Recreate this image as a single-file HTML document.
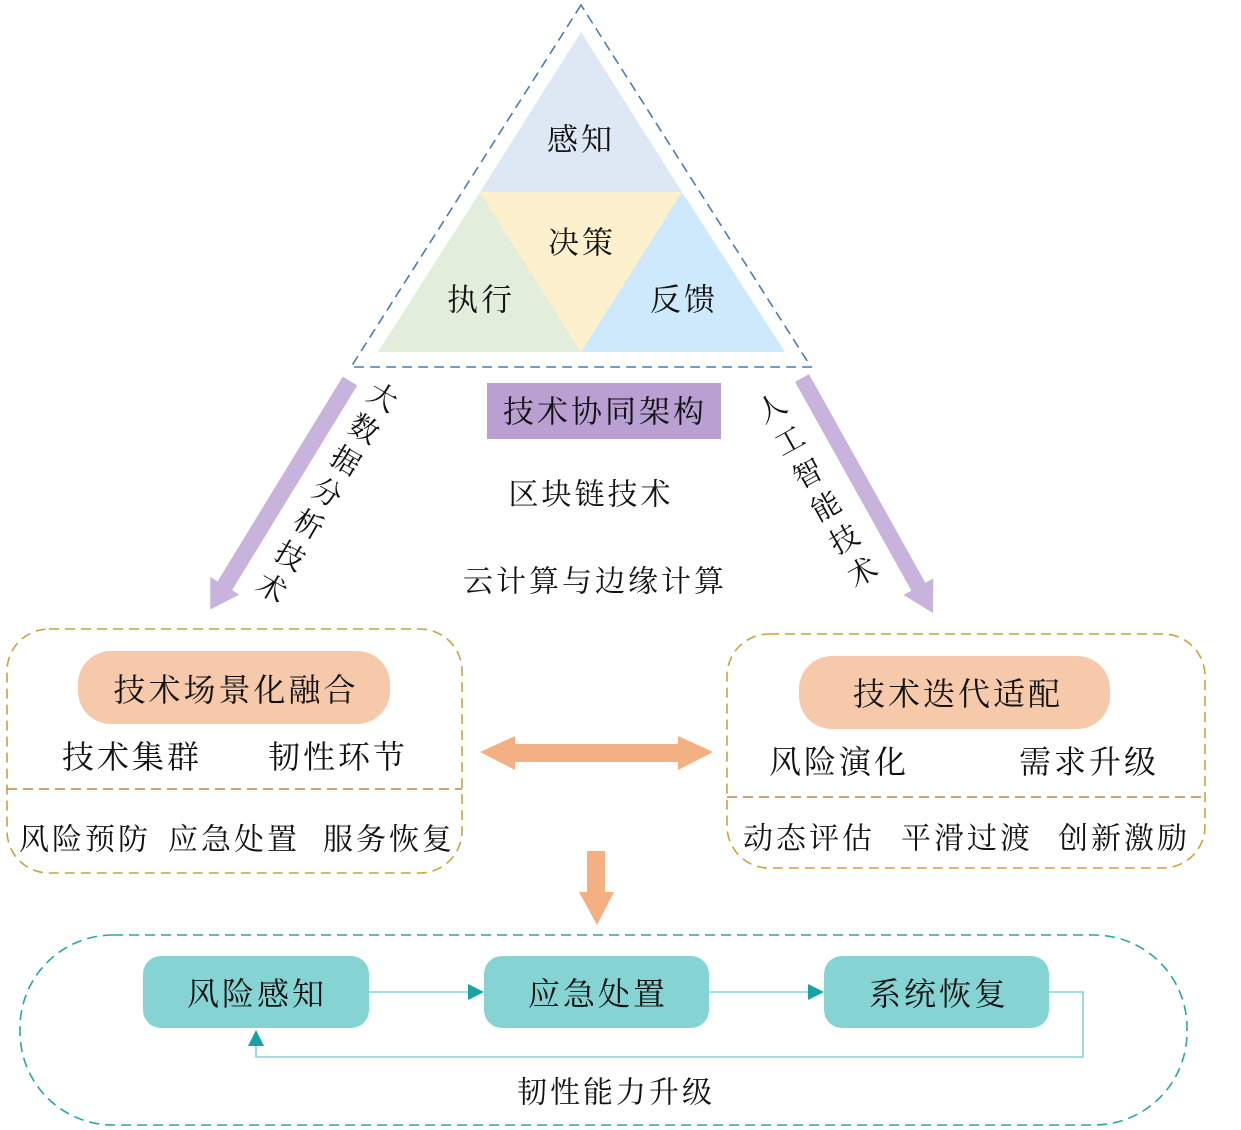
<!DOCTYPE html>
<html>
<head>
<meta charset="utf-8">
<style>
html,body{margin:0;padding:0;background:#fff;}
svg{display:block;}
text{font-family:"Liberation Serif","Noto Serif CJK SC","Noto Sans CJK SC",serif;fill:#111;}
</style>
</head>
<body>
<svg width="1241" height="1130" viewBox="0 0 1241 1130" xmlns="http://www.w3.org/2000/svg">
  <!-- Triangle inner parts -->
  <polygon points="581,32 480,192 682,192" fill="#dde8f4"/>
  <polygon points="480,192 378,352 581,352" fill="#e2eedb"/>
  <polygon points="480,192 682,192 581,352" fill="#fdf0cc"/>
  <polygon points="682,192 581,352 785,352" fill="#cde9fb"/>
  <!-- outer dashed triangle -->
  <polygon points="581,5 351,367 811,367" fill="none" stroke="#4a7db2" stroke-width="1.6" stroke-dasharray="10,6"/>

  <!-- purple arrows -->
  <polygon transform="translate(350,381) rotate(121.44)" points="0,-8.5 240,-8.5 240,-17 268,0 240,17 240,8.5 0,8.5" fill="#c8b3dc"/>
  <polygon transform="translate(802,378) rotate(60.86)" points="0,-8 239,-8 239,-17 269,0 239,17 239,8 0,8" fill="#c8b3dc"/>

  <!-- left rotated label -->
  <g font-size="29" text-anchor="middle" dominant-baseline="central">
    <text transform="translate(382,398) rotate(30)">大</text>
    <text transform="translate(363.5,429.8) rotate(30)">数</text>
    <text transform="translate(345,461.6) rotate(30)">据</text>
    <text transform="translate(326.5,493.4) rotate(30)">分</text>
    <text transform="translate(308,525.2) rotate(30)">析</text>
    <text transform="translate(289.5,557) rotate(30)">技</text>
    <text transform="translate(271,588.8) rotate(30)">术</text>
  </g>
  <!-- right rotated label -->
  <g font-size="29" text-anchor="middle" dominant-baseline="central">
    <text transform="translate(772,409) rotate(-29)">人</text>
    <text transform="translate(790.2,441.8) rotate(-29)">工</text>
    <text transform="translate(808.4,474.6) rotate(-29)">智</text>
    <text transform="translate(826.6,507.4) rotate(-29)">能</text>
    <text transform="translate(844.8,540.2) rotate(-29)">技</text>
    <text transform="translate(863,573) rotate(-29)">术</text>
  </g>

  <rect x="487" y="383" width="234" height="56" fill="#ba9fd3"/>

  <!-- left box -->
  <rect x="7" y="629" width="455" height="244" rx="42" ry="42" fill="none" stroke="#c9a43c" stroke-width="1.6" stroke-dasharray="10,6"/>
  <line x1="7" y1="789" x2="462" y2="789" stroke="#cc8040" stroke-width="1.6" stroke-dasharray="10,6"/>
  <rect x="78" y="651" width="312" height="73" rx="33" ry="33" fill="#f5c9a9"/>

  <!-- right box -->
  <rect x="727" y="634" width="478" height="234" rx="42" ry="42" fill="none" stroke="#c9a43c" stroke-width="1.6" stroke-dasharray="10,6"/>
  <line x1="727" y1="797" x2="1205" y2="797" stroke="#cc8040" stroke-width="1.6" stroke-dasharray="10,6"/>
  <rect x="799" y="656" width="311" height="73" rx="33" ry="33" fill="#f5c9a9"/>

  <!-- orange arrows -->
  <polygon points="480,752 515,736 515,744 678,744 678,736 713,752 678,770 678,762 515,762 515,770" fill="#f3b083"/>
  <polygon points="587,851 605,851 605,892 614,892 597,925 579,892 587,892" fill="#f3b083"/>

  <!-- bottom box -->
  <rect x="20" y="935" width="1167" height="190" rx="93" ry="93" fill="none" stroke="#2aa6a6" stroke-width="1.6" stroke-dasharray="10,6"/>
  <rect x="143" y="956" width="226" height="72" rx="18" ry="18" fill="#86d3d3"/>
  <rect x="484" y="956" width="225" height="72" rx="18" ry="18" fill="#86d3d3"/>
  <rect x="824" y="956" width="225" height="72" rx="18" ry="18" fill="#86d3d3"/>

  <line x1="369" y1="992" x2="470" y2="992" stroke="#86d3d3" stroke-width="1.6"/>
  <polygon points="484,992 468,984 468,1000" fill="#17a3a3"/>
  <line x1="709" y1="992" x2="810" y2="992" stroke="#86d3d3" stroke-width="1.6"/>
  <polygon points="824,992 808,984 808,1000" fill="#17a3a3"/>
  <polyline points="1049,992 1083,992 1083,1057 256,1057 256,1044" fill="none" stroke="#86d3d3" stroke-width="1.6"/>
  <polygon points="256,1030 248,1046 264,1046" fill="#17a3a3"/>

  <g transform="translate(0,2)" text-anchor="middle" dominant-baseline="central">
    <text x="581" y="138" font-size="31" letter-spacing="3">感知</text>
    <text x="582" y="241" font-size="31" letter-spacing="3">决策</text>
    <text x="481" y="298" font-size="31" letter-spacing="3">执行</text>
    <text x="684" y="298" font-size="31" letter-spacing="3">反馈</text>

    <text x="605" y="410" font-size="31" letter-spacing="3">技术协同架构</text>
    <text x="591" y="493" font-size="30" letter-spacing="3">区块链技术</text>
    <text x="595" y="580" font-size="30" letter-spacing="3">云计算与边缘计算</text>

    <text x="236" y="688" font-size="32" letter-spacing="3">技术场景化融合</text>
    <text x="132" y="755" font-size="32" letter-spacing="3">技术集群</text>
    <text x="338" y="755" font-size="32" letter-spacing="3">韧性环节</text>
    <text x="85" y="838" font-size="30" letter-spacing="3">风险预防</text>
    <text x="234" y="838" font-size="30" letter-spacing="3">应急处置</text>
    <text x="389" y="838" font-size="30" letter-spacing="3">服务恢复</text>

    <text x="958" y="692" font-size="32" letter-spacing="3">技术迭代适配</text>
    <text x="839" y="760" font-size="32" letter-spacing="3">风险演化</text>
    <text x="1089" y="760" font-size="32" letter-spacing="3">需求升级</text>
    <text x="809" y="837" font-size="30" letter-spacing="3">动态评估</text>
    <text x="967" y="837" font-size="30" letter-spacing="3">平滑过渡</text>
    <text x="1124" y="837" font-size="30" letter-spacing="3">创新激励</text>

    <text x="257" y="992" font-size="32" letter-spacing="3">风险感知</text>
    <text x="598" y="992" font-size="32" letter-spacing="3">应急处置</text>
    <text x="939" y="992" font-size="32" letter-spacing="3">系统恢复</text>

    <text x="616" y="1091" font-size="30" letter-spacing="3">韧性能力升级</text>
  </g>
</svg>
</body>
</html>
